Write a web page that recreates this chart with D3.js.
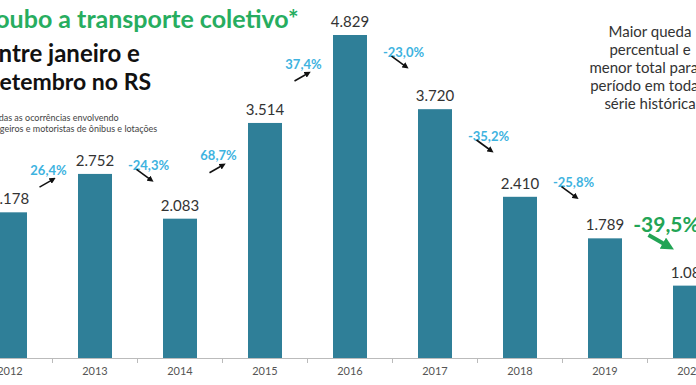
<!DOCTYPE html>
<html lang="pt">
<head>
<meta charset="UTF-8">
<title>Roubo a transporte coletivo</title>
<style>
  body { margin:0; background:#fff; }
  svg { display:block; font-family: Lato, "Open Sans", sans-serif; }
</style>
</head>
<body>
<script src="https://d3js.org/d3.v7.min.js"></script>
<script>
var years = ['2012','2013','2014','2015','2016','2017','2018','2019','2020'];
var totals = [2178, 2752, 2083, 3514, 4829, 3720, 2410, 1789, 1082];
var totalLabels = ['2.178','2.752','2.083','3.514','4.829','3.720','2.410','1.789','1.082'];
var changes = ['26,4%','-24,3%','68,7%','37,4%','-23,0%','-35,2%','-25,8%','-39,5%'];

var width = 696, height = 385,
    baseY = 358;

// hand nudges for the % labels (layout only)
var pctDy = [-23, -31, -15, -15, -20, -17, -35, -37];

var svg = d3.select('body').append('svg')
    .attr('width', width)
    .attr('height', height);

var xScale = d3.scaleBand()
    .domain(years)
    .range([-32.5, 732.5])
    .paddingInner(0.6)
    .paddingOuter(0.3);

var yScale = d3.scaleLinear()
    .domain([0, 4829])
    .range([baseY, 35]);

var step = xScale.step();
function cx(y) { return xScale(y) + xScale.bandwidth() / 2; }

// bars
svg.selectAll('rect.bar')
   .data(totals)
   .enter()
   .append('rect')
   .attr('class', 'bar')
   .attr('x', function(d, i) { return xScale(years[i]); })
   .attr('y', function(d) { return yScale(d); })
   .attr('width', xScale.bandwidth())
   .attr('height', function(d) { return baseY - yScale(d); })
   .attr('fill', '#2f7f98');

// value labels
svg.selectAll('text.val')
   .data(totals)
   .enter()
   .append('text')
   .attr('class', 'val')
   .attr('x', function(d, i) { return cx(years[i]); })
   .attr('y', function(d) { return yScale(d) - 8; })
   .attr('text-anchor', 'middle')
   .attr('font-size', 15)
   .attr('fill', '#333')
   .text(function(d, i) { return totalLabels[i]; });

// x axis
var xAxis = d3.axisBottom(xScale).tickSize(0).tickPadding(9);
var gx = svg.append('g')
   .attr('transform', 'translate(0,' + baseY + ')')
   .call(xAxis);
gx.select('.domain').attr('stroke', '#bbb');
gx.selectAll('.tick text')
  .attr('font-family', 'Lato, sans-serif')
  .attr('font-size', 11)
  .attr('fill', '#555');

// separator ticks between years
svg.selectAll('line.sep')
   .data(years)
   .enter()
   .append('line')
   .attr('class', 'sep')
   .attr('x1', function(d) { return cx(d) + step / 2; })
   .attr('x2', function(d) { return cx(d) + step / 2; })
   .attr('y1', baseY)
   .attr('y2', baseY + 5)
   .attr('stroke', '#bbb');

// arrow markers
var defs = svg.append('defs');
function marker(id, color, size) {
  defs.append('marker')
      .attr('id', id)
      .attr('viewBox', '0 0 10 10')
      .attr('refX', 6).attr('refY', 5)
      .attr('markerWidth', size).attr('markerHeight', size)
      .attr('orient', 'auto')
      .append('path')
      .attr('d', 'M0,0 L10,5 L0,10 z')
      .attr('fill', color);
}
marker('arrBlack', '#111', 4);
marker('arrGreen', '#22a455', 3.2);

// percentage changes
changes.forEach(function(c, i) {
  var last = i === changes.length - 1;
  var down = c.charAt(0) === '-';
  var bx = cx(years[i]) + step / 2;
  var tx = bx + (last ? 19 : (down ? 11 : -4));
  var ty = yScale((totals[i] + totals[i + 1]) / 2) + pctDy[i];

  svg.append('text')
     .attr('x', tx)
     .attr('y', ty)
     .attr('dy', '0.35em')
     .attr('text-anchor', 'middle')
     .attr('font-weight', 'bold')
     .attr('font-size', last ? 21 : 13)
     .attr('fill', last ? '#22a455' : '#3eb3df')
     .text(c);

  var a;
  if (last) a = [tx - 18, ty + 10, tx + 3, ty + 22];
  else if (down) a = [tx - 12, ty + 4, tx + 3, ty + 15];
  else a = [tx - 9, ty + 17, tx + 5, ty + 9];

  svg.append('line')
     .attr('x1', a[0]).attr('y1', a[1])
     .attr('x2', a[2]).attr('y2', a[3])
     .attr('stroke', last ? '#22a455' : '#111')
     .attr('stroke-width', last ? 4 : 1.6)
     .attr('marker-end', last ? 'url(#arrGreen)' : 'url(#arrBlack)');
});

// titles
svg.append('text')
   .attr('x', -20).attr('y', 28)
   .attr('font-size', 25).attr('font-weight', 'bold')
   .attr('fill', '#27ad5f')
   .text('Roubo a transporte coletivo*');

svg.append('text')
   .attr('x', -15).attr('y', 62)
   .attr('font-size', 24).attr('font-weight', 'bold')
   .attr('fill', '#111')
   .text('Entre janeiro e');

svg.append('text')
   .attr('x', -13).attr('y', 90)
   .attr('font-size', 23).attr('font-weight', 'bold')
   .attr('fill', '#111')
   .text('Setembro no RS');

// footnote
var note = ['*Somadas as ocorrências envolvendo', 'passageiros e motoristas de ônibus e lotações'];
svg.selectAll('text.note')
   .data(note)
   .enter()
   .append('text')
   .attr('class', 'note')
   .attr('x', function(d, i) { return i === 0 ? -27 : -22; })
   .attr('y', function(d, i) { return 121 + i * 11; })
   .attr('font-size', 9)
   .attr('fill', '#444')
   .text(function(d) { return d; });

// side annotation
var side = ['Maior queda', 'percentual e', 'menor total para o', 'período em toda a', 'série histórica'];
svg.selectAll('text.side')
   .data(side)
   .enter()
   .append('text')
   .attr('class', 'side')
   .attr('x', 650)
   .attr('y', function(d, i) { return 37 + i * 18; })
   .attr('text-anchor', 'middle')
   .attr('font-size', 15)
   .attr('fill', '#333')
   .text(function(d) { return d; });
</script>
</body>
</html>
